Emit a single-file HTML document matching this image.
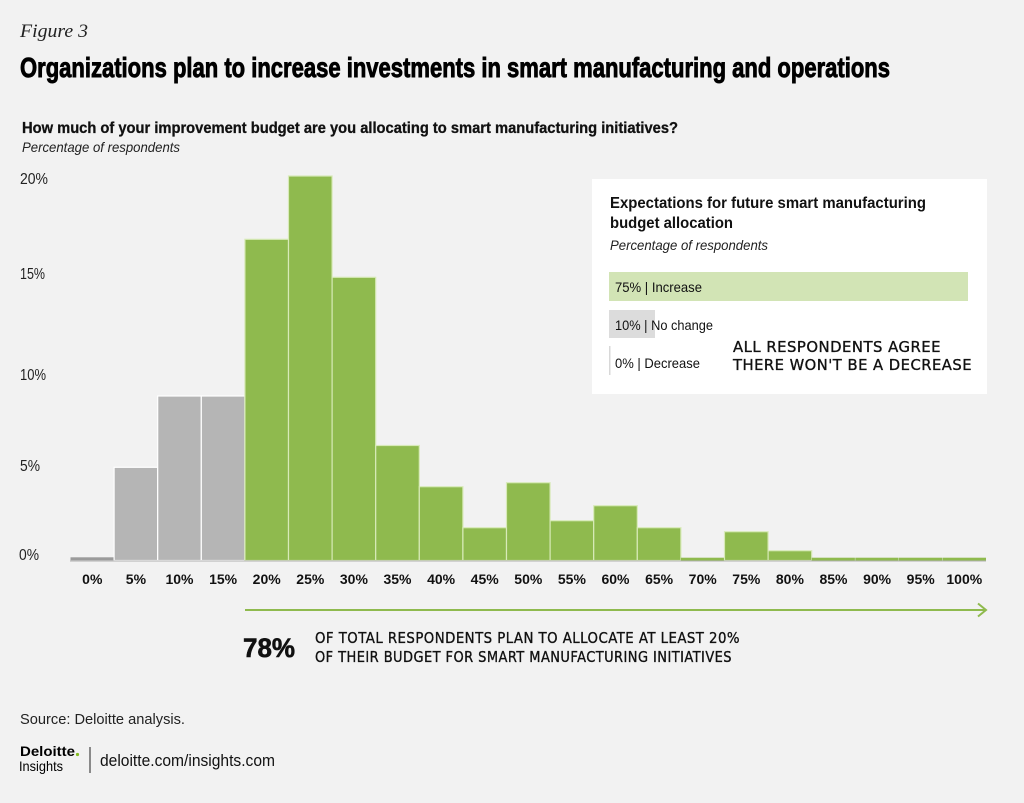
<!DOCTYPE html>
<html>
<head>
<meta charset="utf-8">
<style>
  html, body { margin: 0; padding: 0; background: #f2f2f2; }
  svg { display: block; }
  .sans { font-family: "Liberation Sans Narrow", "Liberation Sans", sans-serif; }
  .hand { font-family: "DejaVu Sans", "Liberation Sans", sans-serif; letter-spacing: 0.5px; }
</style>
</head>
<body>
<svg width="1024" height="803" viewBox="0 0 1024 803" xmlns="http://www.w3.org/2000/svg">
  <rect x="0" y="0" width="1024" height="803" fill="#f2f2f2"/>

  <!-- Header -->
  <text x="20" y="37" font-family="Liberation Serif, serif" font-style="italic" font-size="19" fill="#222" textLength="68" lengthAdjust="spacingAndGlyphs">Figure 3</text>
  <text x="20" y="77" class="sans" font-weight="bold" font-size="28" fill="#000" stroke="#000" stroke-width="0.9" textLength="870" lengthAdjust="spacingAndGlyphs">Organizations plan to increase investments in smart manufacturing and operations</text>
  <text x="22" y="133" class="sans" font-weight="bold" font-size="16" fill="#111" stroke="#111" stroke-width="0.3" textLength="656" lengthAdjust="spacingAndGlyphs">How much of your improvement budget are you allocating to smart manufacturing initiatives?</text>
  <text x="22" y="152" class="sans" font-style="italic" font-size="14" fill="#222" textLength="158" lengthAdjust="spacingAndGlyphs">Percentage of respondents</text>

  <!-- Y axis labels -->
  <g class="sans" font-size="16" fill="#222">
    <text x="20" y="184" textLength="28" lengthAdjust="spacingAndGlyphs">20%</text>
    <text x="20" y="279" textLength="25" lengthAdjust="spacingAndGlyphs">15%</text>
    <text x="20" y="380" textLength="26" lengthAdjust="spacingAndGlyphs">10%</text>
    <text x="20" y="471" textLength="20" lengthAdjust="spacingAndGlyphs">5%</text>
    <text x="19" y="560" textLength="20" lengthAdjust="spacingAndGlyphs">0%</text>
  </g>

  <!-- Bars -->
  <g>
    <rect x="70.5" y="557.3" width="43" height="3" fill="#9b9b9b"/>
    <rect x="114.1" y="467.3" width="43.6" height="93.2" fill="#b5b5b5" stroke="#ffffff" stroke-width="1.2"/>
    <rect x="157.7" y="396" width="43.6" height="164.5" fill="#b5b5b5" stroke="#ffffff" stroke-width="1.2"/>
    <rect x="201.3" y="396" width="43.6" height="164.5" fill="#b5b5b5" stroke="#ffffff" stroke-width="1.2"/>
    <rect x="244.9" y="239.3" width="43.6" height="321.2" fill="#8fba4e" stroke="#d8eab8" stroke-width="1.2"/>
    <rect x="288.5" y="176" width="43.6" height="384.5" fill="#8fba4e" stroke="#d8eab8" stroke-width="1.2"/>
    <rect x="332.1" y="277.3" width="43.6" height="283.2" fill="#8fba4e" stroke="#d8eab8" stroke-width="1.2"/>
    <rect x="375.7" y="445.5" width="43.6" height="115" fill="#8fba4e" stroke="#d8eab8" stroke-width="1.2"/>
    <rect x="419.3" y="486.7" width="43.6" height="73.8" fill="#8fba4e" stroke="#d8eab8" stroke-width="1.2"/>
    <rect x="462.9" y="527.7" width="43.6" height="32.8" fill="#8fba4e" stroke="#d8eab8" stroke-width="1.2"/>
    <rect x="506.5" y="482.7" width="43.6" height="77.8" fill="#8fba4e" stroke="#d8eab8" stroke-width="1.2"/>
    <rect x="550.1" y="520.7" width="43.6" height="39.8" fill="#8fba4e" stroke="#d8eab8" stroke-width="1.2"/>
    <rect x="593.7" y="505.7" width="43.6" height="54.8" fill="#8fba4e" stroke="#d8eab8" stroke-width="1.2"/>
    <rect x="637.3" y="527.7" width="43.6" height="32.8" fill="#8fba4e" stroke="#d8eab8" stroke-width="1.2"/>
    <rect x="680.9" y="557.7" width="43.2" height="2.8" fill="#8fba4e"/>
    <rect x="724.5" y="531.7" width="43.6" height="28.8" fill="#8fba4e" stroke="#d8eab8" stroke-width="1.2"/>
    <rect x="768.1" y="550.7" width="43.6" height="9.8" fill="#8fba4e" stroke="#d8eab8" stroke-width="1.2"/>
    <rect x="811.7" y="557.7" width="43.2" height="2.8" fill="#8fba4e"/>
    <rect x="855.3" y="557.7" width="43.2" height="2.8" fill="#8fba4e"/>
    <rect x="898.9" y="557.7" width="43.2" height="2.8" fill="#8fba4e"/>
    <rect x="942.5" y="557.7" width="43.5" height="2.8" fill="#8fba4e"/>
    <line x1="70" y1="561" x2="986" y2="561" stroke="#b0b0b0" stroke-width="1"/>
  </g>

  <!-- X axis labels -->
  <g class="sans" font-weight="bold" font-size="14" fill="#111" text-anchor="middle">
    <text x="92.3" y="584">0%</text>
    <text x="135.9" y="584">5%</text>
    <text x="179.5" y="584">10%</text>
    <text x="223.1" y="584">15%</text>
    <text x="266.7" y="584">20%</text>
    <text x="310.3" y="584">25%</text>
    <text x="353.9" y="584">30%</text>
    <text x="397.5" y="584">35%</text>
    <text x="441.1" y="584">40%</text>
    <text x="484.7" y="584">45%</text>
    <text x="528.3" y="584">50%</text>
    <text x="571.9" y="584">55%</text>
    <text x="615.5" y="584">60%</text>
    <text x="659.1" y="584">65%</text>
    <text x="702.7" y="584">70%</text>
    <text x="746.3" y="584">75%</text>
    <text x="789.9" y="584">80%</text>
    <text x="833.5" y="584">85%</text>
    <text x="877.1" y="584">90%</text>
    <text x="920.7" y="584">95%</text>
    <text x="964.3" y="584">100%</text>
  </g>

  <!-- Arrow -->
  <line x1="245" y1="610" x2="985" y2="610" stroke="#8fba4e" stroke-width="2"/>
  <polyline points="978,603.5 986,610 978,616.5" fill="none" stroke="#8fba4e" stroke-width="2"/>

  <!-- Bottom annotation -->
  <text x="243" y="657" font-family="Liberation Sans, sans-serif" font-weight="bold" font-size="27" fill="#111" stroke="#111" stroke-width="0.6" textLength="52" lengthAdjust="spacingAndGlyphs">78%</text>
  <text x="315" y="643" class="hand" font-size="15" fill="#111" stroke="#111" stroke-width="0.35" textLength="425" lengthAdjust="spacingAndGlyphs">OF TOTAL RESPONDENTS PLAN TO ALLOCATE AT LEAST 20%</text>
  <text x="315" y="662" class="hand" font-size="15" fill="#111" stroke="#111" stroke-width="0.35" textLength="417" lengthAdjust="spacingAndGlyphs">OF THEIR BUDGET FOR SMART MANUFACTURING INITIATIVES</text>

  <!-- Legend box -->
  <rect x="592" y="179" width="395" height="215" fill="#ffffff"/>
  <text x="610" y="208" class="sans" font-weight="bold" font-size="16" fill="#111" textLength="316" lengthAdjust="spacingAndGlyphs">Expectations for future smart manufacturing</text>
  <text x="610" y="228" class="sans" font-weight="bold" font-size="16" fill="#111" textLength="123" lengthAdjust="spacingAndGlyphs">budget allocation</text>
  <text x="610" y="250" class="sans" font-style="italic" font-size="14" fill="#222" textLength="158" lengthAdjust="spacingAndGlyphs">Percentage of respondents</text>

  <rect x="609" y="272" width="359" height="29" fill="#d2e4b5"/>
  <text x="615" y="292" class="sans" font-size="14" fill="#111" textLength="87" lengthAdjust="spacingAndGlyphs">75% | Increase</text>

  <rect x="609" y="310" width="46" height="28" fill="#dcdcdc"/>
  <text x="615" y="330" class="sans" font-size="14" fill="#111" textLength="98" lengthAdjust="spacingAndGlyphs">10% | No change</text>

  <rect x="609" y="346" width="1.5" height="29" fill="#d8d8d8"/>
  <text x="615" y="368" class="sans" font-size="14" fill="#111" textLength="85" lengthAdjust="spacingAndGlyphs">0% | Decrease</text>

  <text x="733" y="352" class="hand" font-size="15" fill="#111" stroke="#111" stroke-width="0.35" textLength="208" lengthAdjust="spacingAndGlyphs">ALL RESPONDENTS AGREE</text>
  <text x="733" y="370" class="hand" font-size="15" fill="#111" stroke="#111" stroke-width="0.35" textLength="239" lengthAdjust="spacingAndGlyphs">THERE WON'T BE A DECREASE</text>

  <!-- Footer -->
  <text x="20" y="724" class="sans" font-size="15" fill="#222" textLength="165" lengthAdjust="spacingAndGlyphs">Source: Deloitte analysis.</text>
  <text x="20" y="756" font-family="Liberation Sans, sans-serif" font-weight="bold" font-size="14" fill="#000" textLength="55" lengthAdjust="spacingAndGlyphs">Deloitte</text>
  <circle cx="77.5" cy="754.5" r="1.6" fill="#86bc25"/>
  <text x="19" y="771" class="sans" font-size="14" fill="#000" textLength="44" lengthAdjust="spacingAndGlyphs">Insights</text>
  <line x1="90" y1="747" x2="90" y2="773" stroke="#222" stroke-width="1"/>
  <text x="100" y="766" class="sans" font-size="17" fill="#111" textLength="175" lengthAdjust="spacingAndGlyphs">deloitte.com/insights.com</text>
</svg>
</body>
</html>
